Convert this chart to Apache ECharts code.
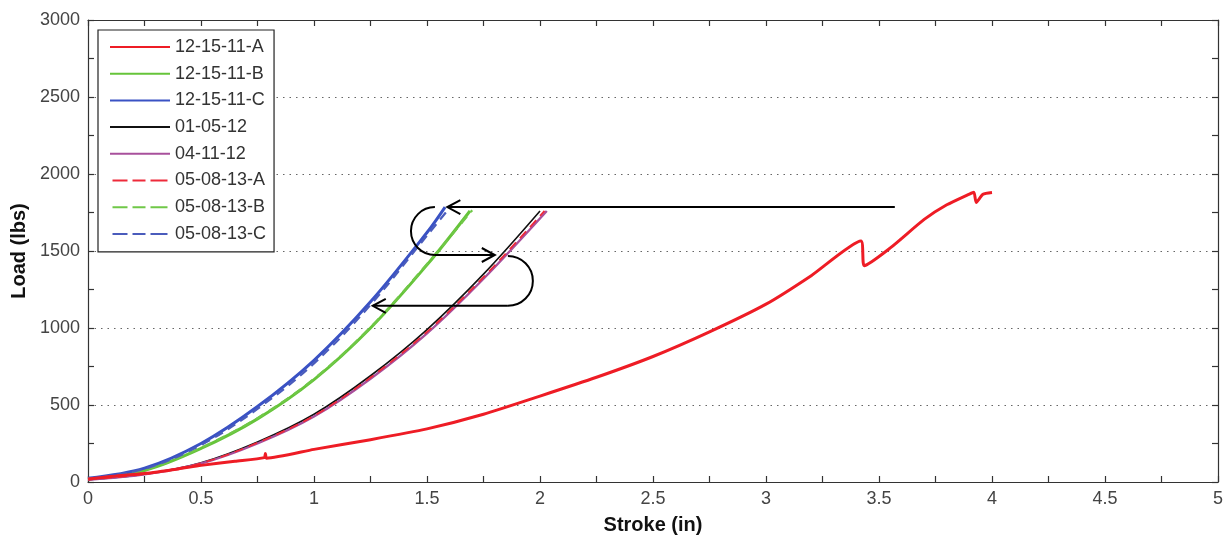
<!DOCTYPE html>
<html>
<head>
<meta charset="utf-8">
<script src="https://cdn.jsdelivr.net/npm/echarts@6/dist/echarts.min.js"></script>
<style>
html,body{margin:0;padding:0;background:#fff;}
#c{width:1229px;height:540px;}
</style>
</head>
<body>
<div id="c"></div>
<script>
// ---- Data (stroke in inches, load in lbs) ----
const seriesNames = ['12-15-11-A','12-15-11-B','12-15-11-C','01-05-12','04-11-12','05-08-13-A','05-08-13-B','05-08-13-C'];

const dataA_121511 = [[0,20],[0.1,35],[0.25,55],[0.4,85],[0.5,108],[0.65,135],[0.78,158],[0.785,185],[0.79,155],[1.0,212],[1.25,275],[1.5,345],[1.75,440],[2.0,558],[2.25,680],[2.5,815],[2.75,975],[3.0,1155],[3.2,1340],[3.42,1565],[3.435,1405],[3.55,1520],[3.7,1705],[3.8,1800],[3.9,1870],[3.92,1882],[3.93,1815],[3.96,1868],[4.0,1880]];
const dataB_121511 = [[0,20],[0.25,75],[0.5,218],[0.75,410],[1.0,665],[1.25,1000],[1.5,1410],[1.69,1760]];
const dataC_121511 = [[0,25],[0.25,90],[0.5,250],[0.75,490],[1.0,790],[1.25,1170],[1.5,1620],[1.58,1785]];
const data_010512  = [[0,15],[0.25,50],[0.5,125],[0.75,260],[1.0,440],[1.25,690],[1.5,990],[1.75,1350],[2.0,1760]];
const data_041112  = [[0,15],[0.25,50],[0.5,120],[0.75,250],[1.0,425],[1.25,670],[1.5,965],[1.75,1320],[2.03,1760]];
const dataA_050813 = [[0,16],[0.25,52],[0.5,122],[0.75,255],[1.0,430],[1.25,678],[1.5,975],[1.75,1330],[2.02,1760]];
const dataB_050813 = [[0,20],[0.25,78],[0.5,222],[0.75,415],[1.0,670],[1.25,1005],[1.5,1415],[1.7,1765]];
const dataC_050813 = [[0,20],[0.25,85],[0.5,240],[0.75,475],[1.0,770],[1.25,1150],[1.5,1600],[1.6,1780]];

const xTicks = {min:0, max:5, interval:0.5};
const yTicks = {min:0, max:3000, interval:500};

// annotation anchors (data coordinates)
const arrowLong = [[3.57,1785],[1.59,1785]];
const loop1 = {top:[1.535,1785], bottom:[1.535,1474], end:[1.80,1474]};
const loop2 = {top:[1.858,1468], bottom:[1.858,1144], end:[1.26,1144]};

const colors = ['#ee1c25','#66c43a','#3a52c4','#111111','#a8509c','#ee2a3a','#70c848','#4a5cbc'];
const allData = [dataA_121511,dataB_121511,dataC_121511,data_010512,data_041112,dataA_050813,dataB_050813,dataC_050813];
const dashed = [false,false,false,false,false,true,true,true];
const widths = [3,3,3,1.6,2.4,1.8,2.2,2.2];
const smoothing = [0.2,0.35,0.35,0.35,0.35,0.35,0.35,0.35];

const ICON_SOLID = 'path://M0,0H60V2H0Z';
const ICON_DASH = 'path://M5,0H20V2H5Z M25,0H38V2H25Z M43,0H60V2H43Z';

const FONT = '"Liberation Sans", Arial, sans-serif';
const chart = echarts.init(document.getElementById('c'), null, {renderer:'canvas'});

const lineSeries = seriesNames.map((n,i)=>({
  name:n, type:'line', data:allData[i], symbol:'none', showSymbol:false,
  xAxisIndex:0, yAxisIndex:0, animation:false, smooth:smoothing[i],
  lineStyle:{color:colors[i], width:widths[i], type: dashed[i] ? [9,6] : 'solid', join:'round'},
  itemStyle:{color:colors[i]},
  z: 3 + (i===0?5:0)
}));

function chevron(tip, dir){ // dir: -1 points left, 1 points right
  const L = 13, H = 7;
  return [[tip[0]-dir*L, tip[1]-H],[tip[0],tip[1]],[tip[0]-dir*L, tip[1]+H]];
}

const annot = {
  type:'custom', name:'annot', silent:true, animation:false, z:10,
  xAxisIndex:0, yAxisIndex:0,
  data:[[0,0]],
  renderItem:function(params, api){
    const st = {stroke:'#000', lineWidth:2, fill:null};
    const a0 = api.coord(arrowLong[0]), a1 = api.coord(arrowLong[1]);
    const t1 = api.coord(loop1.top), b1 = api.coord(loop1.bottom), e1 = api.coord(loop1.end);
    const t2 = api.coord(loop2.top), b2 = api.coord(loop2.bottom), e2 = api.coord(loop2.end);
    const r1 = (b1[1]-t1[1])/2, r2 = (b2[1]-t2[1])/2;
    return {type:'group', children:[
      {type:'line', shape:{x1:a0[0],y1:a0[1],x2:a1[0],y2:a1[1]}, style:st},
      {type:'polyline', shape:{points:chevron(a1,-1)}, style:st},
      {type:'arc', shape:{cx:t1[0], cy:t1[1]+r1, r:r1, startAngle:-Math.PI/2, endAngle:Math.PI/2, clockwise:false}, style:st},
      {type:'line', shape:{x1:b1[0],y1:b1[1],x2:e1[0],y2:e1[1]}, style:st},
      {type:'polyline', shape:{points:chevron(e1,1)}, style:st},
      {type:'arc', shape:{cx:t2[0], cy:t2[1]+r2, r:r2, startAngle:-Math.PI/2, endAngle:Math.PI/2, clockwise:true}, style:st},
      {type:'line', shape:{x1:b2[0],y1:b2[1],x2:e2[0],y2:e2[1]}, style:st},
      {type:'polyline', shape:{points:chevron(e2,-1)}, style:st}
    ]};
  }
};

const axisLineStyle = {show:true, onZero:false, lineStyle:{color:'#333', width:1.2}};
const tickStyle = {show:true, inside:true, length:6, lineStyle:{color:'#333', width:1.2}};
const minorStyle = {show:true, splitNumber:2, length:6, lineStyle:{color:'#333', width:1.2}};

const option = {
  backgroundColor:'#fff',
  animation:false,
  textStyle:{fontFamily:FONT},
  grid:{left:88, right:11, top:20, bottom:56, containLabel:false},
  legend:{
    data:seriesNames.map((n,i)=>({name:n, icon: dashed[i] ? ICON_DASH : ICON_SOLID})),
    orient:'vertical', left:98, top:30,
    padding:[8,8,9,12], itemWidth:60, itemHeight:2, itemGap:8.7,
    borderColor:'#222', borderWidth:1.2, backgroundColor:'#fff',
    textStyle:{fontFamily:FONT, fontSize:18, color:'#333', lineHeight:18},
    z:20
  },
  xAxis:[
    {type:'value', position:'bottom', min:xTicks.min, max:xTicks.max, interval:xTicks.interval,
     name:'Stroke (in)', nameLocation:'middle', nameGap:33,
     nameTextStyle:{fontFamily:FONT, fontSize:20, fontWeight:'bold', color:'#111'},
     axisLine:axisLineStyle, axisTick:tickStyle, minorTick:minorStyle, splitLine:{show:false},
     axisLabel:{fontFamily:FONT, fontSize:18, color:'#444', margin:8, formatter:(v)=>String(v)}},
    {type:'value', position:'top', min:xTicks.min, max:xTicks.max, interval:xTicks.interval,
     axisLine:axisLineStyle, axisTick:tickStyle, minorTick:minorStyle, splitLine:{show:false},
     axisLabel:{show:false}}
  ],
  yAxis:[
    {type:'value', position:'left', min:yTicks.min, max:yTicks.max, interval:yTicks.interval,
     name:'Load (lbs)', nameLocation:'middle', nameGap:57, nameRotate:90,
     nameTextStyle:{fontFamily:FONT, fontSize:20, fontWeight:'bold', color:'#111'},
     axisLine:axisLineStyle, axisTick:tickStyle, minorTick:minorStyle,
     splitLine:{show:true, lineStyle:{color:'#666', type:[1.5,5], width:1.2}},
     axisLabel:{fontFamily:FONT, fontSize:18, color:'#444', margin:8, formatter:(v)=>String(v)}},
    {type:'value', position:'right', min:yTicks.min, max:yTicks.max, interval:yTicks.interval,
     axisLine:axisLineStyle, axisTick:tickStyle, minorTick:minorStyle, splitLine:{show:false},
     axisLabel:{show:false}}
  ],
  series: lineSeries.concat([annot])
};
chart.setOption(option);
</script>
</body>
</html>
